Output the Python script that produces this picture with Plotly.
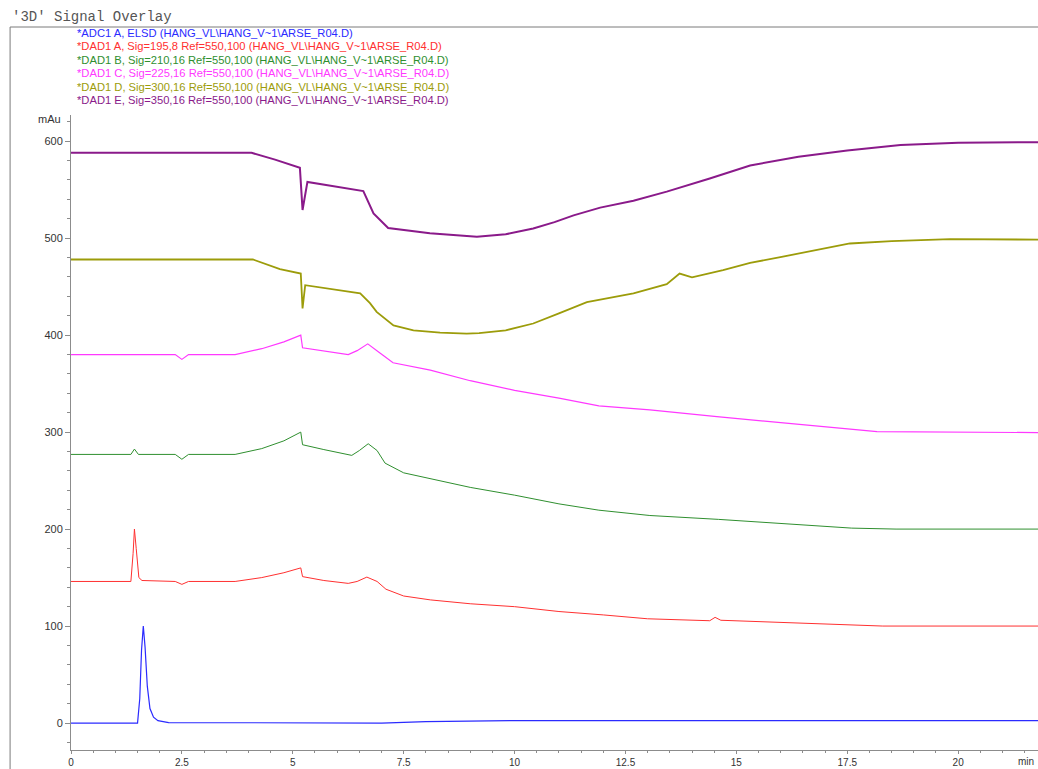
import plotly.graph_objects as go

# retention time (min) / signal (mAu)
t_adc = [0, 1.50, 1.55, 1.59, 1.63, 1.67, 1.72, 1.78, 1.86, 1.96, 2.2, 7.0, 8.0, 10.0, 21.8]
y_adc = [0, 0, 25, 75, 100, 78, 38, 15, 6, 2.5, 0.5, 0, 1.5, 2.5, 2.5]

t_a = [0, 1.35, 1.40, 1.43, 1.47, 1.53, 1.6, 2.35, 2.5, 2.65, 3.7, 4.3, 4.8, 5.18, 5.22, 5.7, 6.25,
       6.45, 6.67, 6.9, 7.1, 7.5, 8.1, 9.0, 10.0, 11.0, 12.0, 13.0, 14.4, 14.52, 14.65, 15.5, 16.5,
       17.5, 18.3, 21.8]
y_a = [146, 146, 175, 200, 180, 150, 147, 146, 143, 146, 146, 150, 155, 160, 151, 147, 144,
       146, 150.5, 146, 138, 131, 127, 123, 120, 115, 111.5, 107.5, 105.5, 109, 106, 104.5, 103,
       101.5, 100, 100]

t_b = [0, 1.35, 1.43, 1.52, 2.35, 2.5, 2.65, 3.7, 4.3, 4.8, 5.18, 5.22, 5.7, 6.33, 6.5, 6.7, 6.9,
       7.08, 7.5, 8.1, 9.0, 10.0, 11.0, 11.9, 13.05, 14.6, 16.0, 17.6, 18.6, 21.8]
y_b = [277, 277, 282.5, 277, 277, 272, 277, 277, 283, 291, 300, 287, 282, 276, 281, 288, 281,
       268, 258, 252, 243, 235, 226, 219.5, 214, 210, 205.5, 201, 200, 200]

t_c = [0, 2.35, 2.5, 2.65, 3.7, 4.3, 4.8, 5.18, 5.22, 5.7, 6.25, 6.45, 6.69, 6.95, 7.26, 8.1,
       9.0, 10.0, 11.0, 11.9, 13.05, 14.56, 16.66, 18.17, 21.8]
y_c = [380, 380, 375, 380, 380, 386, 393, 400, 387, 384, 380, 384, 391, 382, 371.5, 364,
       353, 343, 335, 327, 323, 316, 307, 300.5, 299.5]

t_d = [0, 4.1, 4.71, 5.18, 5.22, 5.28, 6.52, 6.74, 6.89, 7.27, 7.72, 8.32, 8.92, 9.2, 9.8, 10.42,
       11.0, 11.63, 12.68, 13.43, 13.72, 14.0, 14.7, 15.31, 16.05, 16.8, 17.56, 18.5, 19.82, 21.8]
y_d = [478, 478, 468, 463.5, 427.5, 451.5, 443, 433, 424, 410, 405, 402.5, 401.5, 402, 405, 412,
       422.5, 434, 443, 452.5, 463.5, 459.5, 467, 474.5, 481, 488, 494.5, 497, 499, 498.5]

t_e = [0, 4.07, 4.6, 5.16, 5.22, 5.33, 6.59, 6.82, 7.15, 7.42, 8.09, 9.15, 9.8, 10.42, 10.9,
       11.33, 11.93, 12.68, 13.43, 14.4, 15.31, 16.4, 17.5, 18.7, 20.0, 21.8]
y_e = [588, 588, 581, 572.5, 529, 558, 548.5, 525.5, 510.5, 509, 505, 501.5, 504, 510, 516.5,
       523.5, 531.5, 538.5, 548, 561.5, 575, 584, 590.5, 596, 598.5, 599]

labels = [
    r"*ADC1 A, ELSD (HANG_VL\HANG_V~1\ARSE_R04.D)",
    r"*DAD1 A, Sig=195,8 Ref=550,100 (HANG_VL\HANG_V~1\ARSE_R04.D)",
    r"*DAD1 B, Sig=210,16 Ref=550,100 (HANG_VL\HANG_V~1\ARSE_R04.D)",
    r"*DAD1 C, Sig=225,16 Ref=550,100 (HANG_VL\HANG_V~1\ARSE_R04.D)",
    r"*DAD1 D, Sig=300,16 Ref=550,100 (HANG_VL\HANG_V~1\ARSE_R04.D)",
    r"*DAD1 E, Sig=350,16 Ref=550,100 (HANG_VL\HANG_V~1\ARSE_R04.D)",
]
colors = ["#2b2bff", "#ff3030", "#2f8f2f", "#ff38ff", "#9c9c0a", "#8a1a8a"]
widths = [1.2, 1.0, 1.0, 1.2, 1.8, 2.0]

x_ticks = [0, 2.5, 5, 7.5, 10, 12.5, 15, 17.5, 20]
x_ticktext = ["0", "2.5", "5", "7.5", "10", "12.5", "15", "17.5", "20"]
y_ticks = [0, 100, 200, 300, 400, 500, 600]

series = [(t_adc, y_adc), (t_a, y_a), (t_b, y_b), (t_c, y_c), (t_d, y_d), (t_e, y_e)]

fig = go.Figure()
for (t, y), name, c, w in zip(series, labels, colors, widths):
    fig.add_trace(go.Scatter(x=t, y=y, mode="lines", name=name,
                             line=dict(color=c, width=w), showlegend=False))

axis_col = "#8c8c8c"
tick_font = dict(family="Liberation Sans, Arial", size=11, color="#333333")
xtick_font = dict(family="Liberation Sans, Arial", size=10, color="#333333")

# plot box: 115px from top to 750px, so 0 mAu sits at y=723 and 600 at y=141
fig.update_layout(
    width=1038, height=769,
    margin=dict(l=71, r=0, t=115, b=19),
    paper_bgcolor="white", plot_bgcolor="white",
    xaxis=dict(range=[0, 21.8], showgrid=False, zeroline=False, showline=True, automargin=False,
               linecolor=axis_col, ticks="outside", ticklen=3, tickcolor=axis_col,
               tickmode="array", tickvals=x_ticks, ticktext=x_ticktext, tickfont=xtick_font,
               minor=dict(dtick=0.5, tick0=0, ticks="outside", ticklen=2, tickcolor=axis_col)),
    yaxis=dict(range=[-27.8, 627], showgrid=False, zeroline=False, showline=True, automargin=False,
               linecolor=axis_col, ticks="outside", ticklen=5, tickcolor=axis_col,
               tickmode="array", tickvals=y_ticks, tickfont=tick_font,
               minor=dict(dtick=20, tick0=0, ticks="outside", ticklen=3, tickcolor=axis_col)),
)

H = 635.0  # plot box height in px, for paper coords
def py2paper(py):
    return (750 - py) / H

# outer frame (top and left edges)
fig.add_shape(type="line", xref="paper", yref="paper", x0=-0.063, x1=1.01,
              y0=py2paper(27), y1=py2paper(27), line=dict(color="#7a7a7a", width=1))
fig.add_shape(type="line", xref="paper", yref="paper", x0=-0.063, x1=-0.063,
              y0=py2paper(27), y1=py2paper(775), line=dict(color="#7a7a7a", width=1))

fig.add_annotation(text="'3D' Signal Overlay", xref="paper", yref="paper", x=-0.063, y=py2paper(17),
                   xanchor="left", yanchor="middle", showarrow=False,
                   font=dict(family="Liberation Mono, Courier New", size=14, color="#555555"))

for i, (txt, c) in enumerate(zip(labels, colors)):
    fig.add_annotation(text=txt, xref="paper", yref="paper", x=0.004, y=py2paper(33 + i * 13.4),
                       xanchor="left", yanchor="middle", showarrow=False,
                       font=dict(family="Liberation Sans, Arial", size=11.2, color=c))

fig.add_annotation(text="mAu", xref="paper", yref="paper", x=-0.0083, y=py2paper(119),
                   xanchor="right", yanchor="middle", showarrow=False, font=tick_font)
fig.add_annotation(text="min", xref="paper", yref="paper", x=0.998, y=py2paper(761),
                   xanchor="right", yanchor="middle", showarrow=False, font=xtick_font)

fig.write_html("out.html", config={"displayModeBar": False},
               post_script="document.body.style.margin='0px';")
